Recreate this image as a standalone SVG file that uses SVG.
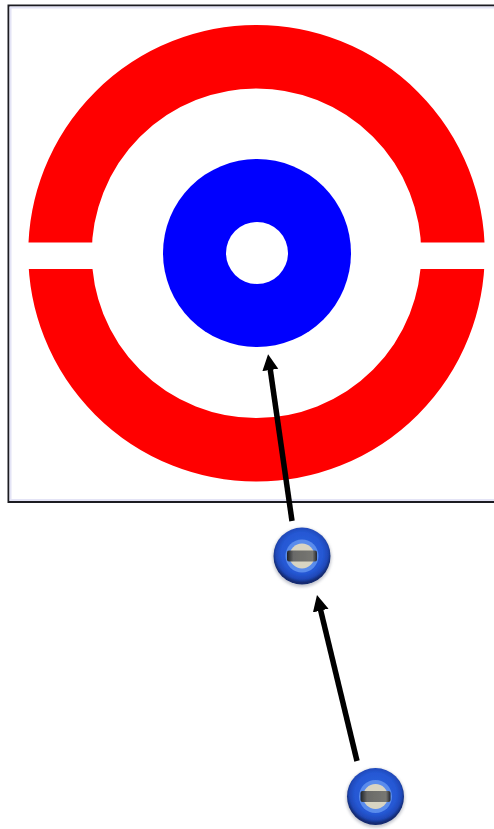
<svg xmlns="http://www.w3.org/2000/svg" width="494" height="829" viewBox="0 0 494 829">
<style>
.conn{fill:none;stroke:#000;stroke-width:5.5;marker-end:url(#head)}
</style>
<defs>
<marker id="head" markerUnits="userSpaceOnUse" markerWidth="18" markerHeight="18" refX="1" refY="8" orient="auto">
<path d="M0,0 L16,8 L0,16 Z" fill="#000"/>
</marker>
<radialGradient id="rim" cx="50%" cy="45%" r="52%">
<stop offset="0" stop-color="#2f64de"/>
<stop offset="0.7" stop-color="#2558d4"/>
<stop offset="0.88" stop-color="#1f48b8"/>
<stop offset="1" stop-color="#12296f"/>
</radialGradient>
<linearGradient id="bar" x1="0" x2="1" y1="0" y2="0">
<stop offset="0" stop-color="#1f2228"/>
<stop offset="0.22" stop-color="#6a6a68"/>
<stop offset="0.85" stop-color="#777772"/>
<stop offset="1" stop-color="#22242c"/>
</linearGradient>
<filter id="soft" x="-25%" y="-25%" width="150%" height="150%"><feGaussianBlur stdDeviation="0.7"/></filter>
<filter id="shadow" x="-25%" y="-25%" width="150%" height="150%"><feGaussianBlur stdDeviation="1.5"/></filter>
<g id="stone">
<circle r="29.5" cy="1.5" fill="#8a8fa0" opacity="0.5" filter="url(#shadow)"/>
<g filter="url(#soft)">
<circle r="28.5" fill="url(#rim)"/>
<circle r="16.5" fill="#5a8cec"/>
<circle r="12.5" fill="#d8d4c2"/>
<rect x="-15" y="-5.5" width="30" height="11" rx="2" fill="url(#bar)"/>
</g>
</g>
</defs>
<g id="frame">
<rect x="8.5" y="5.5" width="490" height="496.5" fill="#fff" stroke="#1c1c22" stroke-width="2"/>
<rect x="10.5" y="7.5" width="490" height="492.5" fill="none" stroke="#e4e4f6" stroke-width="2"/>
</g>
<g id="target">
<circle cx="256.5" cy="253.3" r="196.5" fill="none" stroke="#f00" stroke-width="63.5"/>
<rect x="25" y="242.5" width="70" height="26.5" fill="#fff"/>
<rect x="419" y="242.5" width="70" height="26.5" fill="#fff"/>
<circle cx="257" cy="253" r="94" fill="#00f"/>
<circle cx="257" cy="253" r="31" fill="#fff"/>
</g>
<g id="connectors">
<line class="conn" x1="292" y1="521" x2="270.2" y2="369"/>
<line class="conn" x1="357" y1="761" x2="320.5" y2="609.6"/>
</g>
<g id="stone-1"><use href="#stone" x="302" y="556"/></g>
<g id="stone-2"><use href="#stone" x="375.5" y="796.5"/></g>
</svg>
